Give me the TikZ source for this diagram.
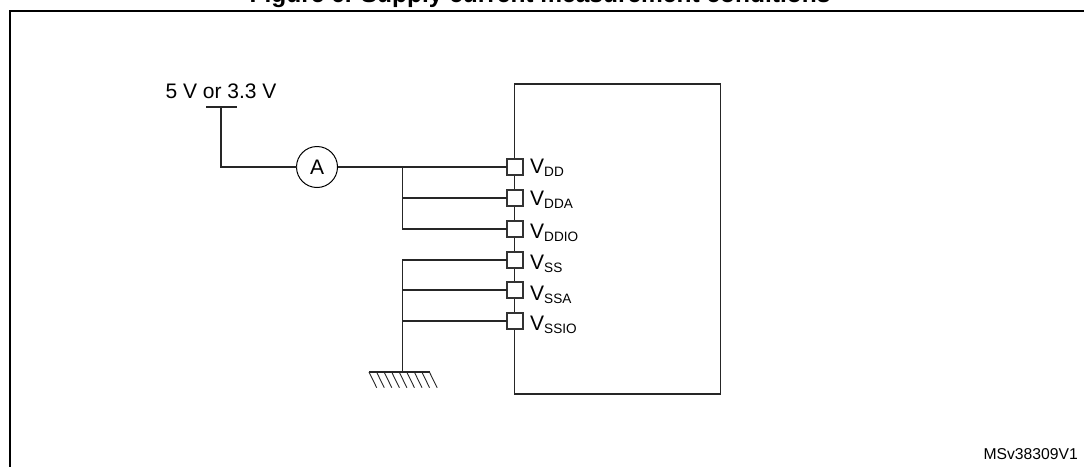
\documentclass[tikz,border=0pt]{standalone}
\usepackage{fontspec}
\setmainfont{Liberation Sans}
\tikzset{
  frameline/.style={line width=2pt,black},
  wire/.style={line width=1.3pt,black!85},
  pinbox/.style={draw=black!80,line width=1.1pt,fill=white,minimum size=16pt,inner sep=0pt,outer sep=0pt},
  pinlabel/.style={anchor=base west,inner sep=0pt,font=\fontsize{21}{21}\selectfont},
  hatch/.style={line width=0.9pt,black!85}
}
\newcommand{\subtxt}[2]{#1\raisebox{-3.5pt}{\fontsize{13.6}{13.6}\selectfont #2}}
\begin{document}
\begin{tikzpicture}[x=1pt,y=-1pt]
\useasboundingbox (0,0) rectangle (1084,467);
\begin{scope}
\clip (0,0) rectangle (1084,467);
\node[anchor=base,inner sep=0pt,font=\bfseries\fontsize{24.5}{24.5}\selectfont] (title) at (540,2) {Figure 6. Supply current measurement conditions};
\end{scope}
\coordinate (ftr) at (1084,11);
\coordinate (ftl) at (10,11);
\coordinate (fbl) at (10,467);
\draw[frameline] (ftr) -- (ftl) -- (fbl);
% chip
\coordinate (c1) at (514.5,84);
\coordinate (c2) at (720.5,394);
\draw[wire] (c1) rectangle (c2);
% pins
\node[pinbox] (dd) at (515,167) {};
\node[pinbox] (dda) at (515,198) {};
\node[pinbox] (ddio) at (515,229) {};
\node[pinbox] (ss) at (515,260) {};
\node[pinbox] (ssa) at (515,290) {};
\node[pinbox] (ssio) at (515,321) {};
\node[pinlabel] (ldd) at (530,173) {\subtxt{V}{DD}};
\node[pinlabel] (ldda) at (530,205) {\subtxt{V}{DDA}};
\node[pinlabel] (lddio) at (530,238) {\subtxt{V}{DDIO}};
\node[pinlabel] (lss) at (530,269) {\subtxt{V}{SS}};
\node[pinlabel] (lssa) at (530,300) {\subtxt{V}{SSA}};
\node[pinlabel] (lssio) at (530,330) {\subtxt{V}{SSIO}};
% supply
\node[inner sep=0pt,anchor=base,font=\fontsize{21}{21}\selectfont] (sup) at (221,98) {5 V or 3.3 V};
\coordinate (ba) at (206,107);
\coordinate (bb) at (237,107);
\coordinate (bm) at (221,107);
\draw[wire] (ba) -- (bb);
\node[circle,draw=black,line width=1pt,minimum size=41pt,inner sep=0pt,outer sep=0pt,font=\fontsize{21}{21}\selectfont] (amm) at (317,167) {A};
\draw[wire] (bm) |- (amm.west);
\draw[wire] (amm.east) -- (dd.west);
\coordinate (ju) at (402.5,167);
\draw[wire] (ju) |- (ddio.west);
\draw[wire] (dda.west) -- (dda.west -| ju);
% ground
\coordinate (gnd) at (402.5,372);
\draw[wire] (ss.west) -| (gnd);
\draw[wire] (ssa.west) -- (ssa.west -| gnd);
\draw[wire] (ssio.west) -- (ssio.west -| gnd);
\coordinate (ga) at (369,372);
\coordinate (gb) at (430,372);
\draw[wire] (ga) -- (gb);
\foreach \i in {0,...,8} {
  \draw[hatch] ([xshift={\i*7.55pt}]ga) -- ++(7.7,15.7);
}
\node[anchor=base east,inner sep=0pt,font=\fontsize{15.7}{15.7}\selectfont] (ref) at (1078,459) {MSv38309V1};
\end{tikzpicture}
\end{document}
